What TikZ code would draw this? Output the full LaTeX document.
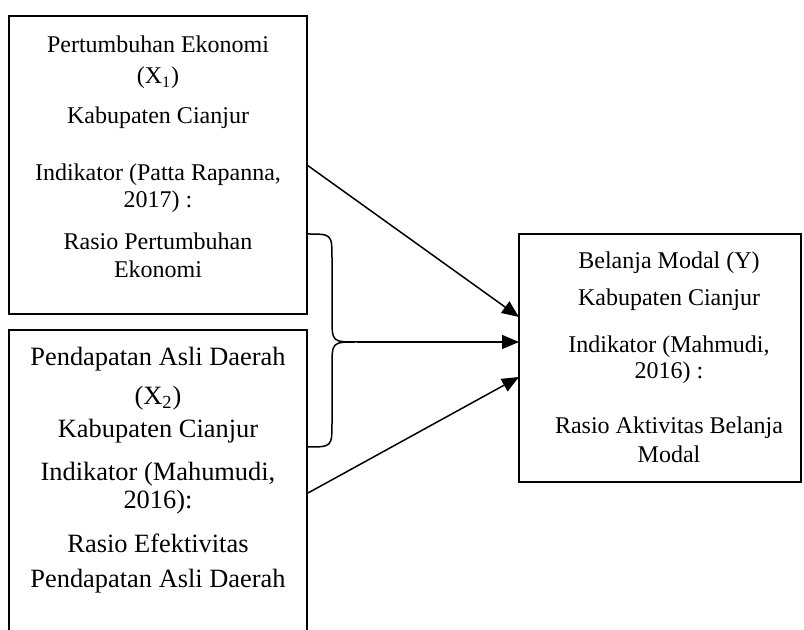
\documentclass[tikz,border=0pt]{standalone}
\usepackage{fontspec}
\setmainfont{Liberation Serif}
\usetikzlibrary{arrows.meta,calc}
\begin{document}
\begin{tikzpicture}[x=0.5pt,y=-0.5pt,
  box/.style={draw, line width=1pt, rectangle, inner sep=0pt, outer sep=0pt},
  lbl/.style={inner sep=0pt, anchor=base, font=\fontsize{12}{14}\selectfont},
  lblb/.style={inner sep=0pt, anchor=base, font=\fontsize{13.2}{15}\selectfont},
  conn/.style={line width=0.75pt, -{Triangle[length=8.5pt,width=7pt]}}]
\useasboundingbox (0,0) rectangle (804,630);
\clip (0,0) rectangle (804,630);
% boxes
\node[box, minimum width=149pt, minimum height=149pt] (b1) at (158,165) {};
\node[box, minimum width=149pt, minimum height=160pt] (b2) at (158,490) {};
\node[box, minimum width=141pt, minimum height=124pt] (b3) at (660,358) {};
% box 1 text
\node[lbl] (t11) at (158,53) {Pertumbuhan Ekonomi};
\node[lbl] (t12) at (158,84) {(X\textsubscript{1})};
\node[lbl] (t13) at (158,124) {Kabupaten Cianjur};
\node[lbl] (t14) at (158,181) {Indikator (Patta Rapanna,};
\node[lbl] (t15) at (158,208) {2017) :};
\node[lbl] (t16) at (158,250) {Rasio Pertumbuhan};
\node[lbl] (t17) at (158,278) {Ekonomi};
% box 2 text
\node[lblb] (t21) at (158,366) {Pendapatan Asli Daerah};
\node[lblb] (t22) at (158,405) {(X\textsubscript{2})};
\node[lblb] (t23) at (158,438) {Kabupaten Cianjur};
\node[lblb] (t24) at (158,481) {Indikator (Mahumudi,};
\node[lblb] (t25) at (158,509) {2016):};
\node[lblb] (t26) at (158,553) {Rasio Efektivitas};
\node[lblb] (t27) at (158,588) {Pendapatan Asli Daerah};
% box 3 text
\node[lbl] (t31) at (669,269) {Belanja Modal (Y)};
\node[lbl] (t32) at (669,306) {Kabupaten Cianjur};
\node[lbl] (t33) at (669,353) {Indikator (Mahmudi,};
\node[lbl] (t34) at (669,379) {2016) :};
\node[lbl] (t35) at (669,434) {Rasio Aktivitas Belanja};
\node[lbl] (t36) at (669,463) {Modal};
% coordinates
\coordinate (bt) at (307,234);
\coordinate (bb) at (307,447);
\coordinate (tip) at (357,342);
\coordinate (s3) at (308,493);
\coordinate (e1) at ($(b3.west)+(0,-41)$);
\coordinate (e2) at (b3.west |- tip);
\coordinate (e3) at ($(b3.west)+(0,19)$);
% brace
\draw[line width=0.75pt] (bt) .. controls (332,234) .. (332,259) -- (332,317)
  .. controls (332,342) .. (tip) .. controls (332,342) .. (332,367) -- (332,422)
  .. controls (332,447) .. (bb);
% connectors
\draw[conn] (b1.east) -- (e1);
\draw[conn] (tip) -- (e2);
\draw[conn] (s3) -- (e3);
\end{tikzpicture}
\end{document}
